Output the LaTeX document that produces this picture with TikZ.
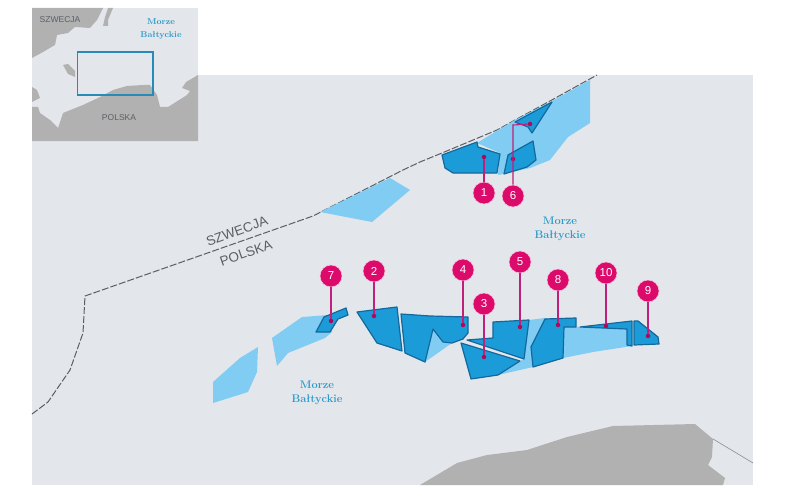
\documentclass[tikz,border=0pt]{standalone}
\usepackage{fontspec}
\newfontfamily\labelfont{Liberation Sans}
\definecolor{seagrey}{HTML}{E3E7EC}
\definecolor{landgrey}{HTML}{B1B1B1}
\definecolor{fieldlight}{HTML}{80CCF2}
\definecolor{fielddark}{HTML}{1B9BD8}
\definecolor{fieldedge}{HTML}{14689C}
\definecolor{pinred}{HTML}{DB0A6B}
\definecolor{seatext}{HTML}{2C9AC9}
\definecolor{bordergrey}{HTML}{5A5F66}
\tikzset{
 light/.style={fill=fieldlight, draw=none},
 dark/.style={fill=fielddark, draw=fieldedge, line width=1.2pt, line join=round},
 pin/.style={circle, fill=pinred, draw=pinred!25, line width=0.6pt, inner sep=0pt, minimum size=22pt, text=white, font=\labelfont\fontsize{11.5}{13}\selectfont},
 pindot/.style={circle, fill=pinred!80!black, inner sep=0pt, minimum size=4.5pt},
 pinline/.style={draw=pinred!85!fielddark, line width=1.1pt},
 country/.style={text=bordergrey, font=\labelfont\fontsize{13.5}{16}\selectfont},
 smallcountry/.style={text=bordergrey, font=\labelfont\fontsize{8.5}{10}\selectfont},
 sealabel/.style={text=seatext, align=center, font=\bfseries\fontsize{11}{14.5}\selectfont},
 smallsealabel/.style={text=seatext, align=center, font=\bfseries\fontsize{8.5}{12.5}\selectfont}
}

\begin{document}
\begin{tikzpicture}[x=1pt,y=-1pt]

 \useasboundingbox (0,0) rectangle (800,500);
 \fill[white] (0,0) rectangle (800,500);

 % MAIN MAP
 % sea
 \fill[seagrey] (32,75) rectangle (753,485);

 % land
 \fill[landgrey] (420,485) -- (457,463) -- (487,455) -- (527,450) -- (567,437) -- (613,426) -- (695,424)
  -- (713,439) -- (712,457) -- (708,465) -- (725,478) -- (723,485) -- cycle;
 \draw[bordergrey!70, line width=0.6pt] (713,439) -- (753,463);

 % border
 \draw[bordergrey, line width=1pt, dash pattern=on 7pt off 2pt] (32,414) -- (48,402) -- (70,370) -- (83,333) -- (85,296)
  -- (313,216) -- (403,170) -- (420,162) -- (442,153) -- (497,130) -- (515,120) -- (550,101) -- (597,75);

 % light fields
 \fill[light] (320,212) -- (390,178) -- (410,190) -- (372,222) -- cycle;
 \fill[light] (552,101) -- (590,80) -- (590,123) -- (568,137) -- (550,160) -- (530,168) -- (503,174)
  -- (498,175) -- (500,153) -- (477,143) -- (498,130) -- (515,120) -- cycle;
 \fill[light] (258,347) -- (257,372) -- (248,392) -- (213,403) -- (213,382) -- (240,358) -- cycle;
 \fill[light] (272,338) -- (302,317) -- (328,315) -- (332,332) -- (325,338) -- (288,353) -- (277,366) -- cycle;
 \fill[light] (433,329) -- (443,342) -- (452,343) -- (425,362) -- cycle;
 \fill[light] (529,320) -- (545,318) -- (576,327) -- (630,326) -- (632,346) -- (593,352) -- (563,358)
  -- (533,367) -- (498,375) -- (520,361) -- (524,359) -- cycle;

 % dark fields
 \draw[dark] (442,155) -- (477,142) -- (478,147) -- (500,154) -- (497,173) -- (453,173) -- (445,168) -- cycle;
 \draw[dark] (508,155) -- (533,141) -- (536,160) -- (527,167) -- (504,174) -- cycle;
 \draw[dark] (552,102) -- (532,133) -- (528,127) -- (515,122) -- cycle;
 \draw[dark] (346,308) -- (348,315) -- (338,319) -- (330,332) -- (316,332) -- (324,317) -- cycle;
 \draw[dark] (357,312) -- (397,307) -- (402,351) -- (377,343) -- cycle;
 \draw[dark] (401,314) -- (430,316) -- (468,317) -- (468,333) -- (463,339) -- (452,343) -- (443,342)
  -- (433,329) -- (425,362) -- (405,353) -- cycle;
 \draw[dark] (461,343) -- (520,361) -- (498,375) -- (471,379) -- cycle;
 \draw[dark] (467,340) -- (493,338) -- (493,322) -- (529,320) -- (524,359) -- cycle;
 \draw[dark] (545,319) -- (576,318) -- (576,327) -- (564,327) -- (563,358) -- (533,367) -- (531,347) -- (537,335) -- cycle;
 \draw[dark] (580,327) -- (632,321) -- (632,346) -- (627,345) -- (627,329) -- cycle;
 \draw[dark] (634,321) -- (638,321) -- (658,337) -- (659,344) -- (634,345) -- cycle;

 % pins
 \node[pin] (p1) at (484,193) {1};
 \node[pin] (p2) at (374,271) {2};
 \node[pin] (p3) at (484,304) {3};
 \node[pin] (p4) at (463,270) {4};
 \node[pin] (p5) at (520,262) {5};
 \node[pin] (p6) at (513,196) {6};
 \node[pin] (p7) at (331,276) {7};
 \node[pin] (p8) at (558,280) {8};
 \node[pin] (p9) at (648,291) {9};
 \node[pin] (p10) at (606,273) {10};

 \node[pindot] (d1) at (484,157) {};
 \node[pindot] (d2) at (374,316) {};
 \node[pindot] (d3) at (484,357) {};
 \node[pindot] (d4) at (463,325) {};
 \node[pindot] (d5) at (520,327) {};
 \node[pindot] (d6) at (513,159) {};
 \node[pindot] (d6b) at (530,124) {};
 \node[pindot] (d7) at (331,321) {};
 \node[pindot] (d8) at (558,325) {};
 \node[pindot] (d9) at (648,336) {};
 \node[pindot] (d10) at (606,326) {};
 \coordinate (c6) at (513,125);

 \draw[pinline] (p1) -- (d1);
 \draw[pinline] (p2) -- (d2);
 \draw[pinline] (p3) -- (d3);
 \draw[pinline] (p4) -- (d4);
 \draw[pinline] (p5) -- (d5);
 \draw[pinline] (p6) -- (c6) -- (d6b);
 \draw[pinline] (p7) -- (d7);
 \draw[pinline] (p8) -- (d8);
 \draw[pinline] (p9) -- (d9);
 \draw[pinline] (p10) -- (d10);

 % legend
 \node[sealabel] (seanorth) at (560,229) {Morze\\Bałtyckie};
 \node[sealabel] (seasouth) at (317,393) {Morze\\Bałtyckie};
 \node[country, rotate=20] (sweden) at (237,231) {SZWECJA};
 \node[country, rotate=19] (poland) at (246,253) {POLSKA};

 % -------------------------------------------------------------------
 % INSET
 % sea
 \fill[seagrey] (32,8) rectangle (198,141);

 % land
 \fill[landgrey] (32,8) -- (103,8) -- (97,20) -- (90,28) -- (75,27) -- (68,33) -- (57,35) -- (55,45) -- (43,52) -- (32,58) -- cycle;
 \fill[landgrey] (108,8) -- (113,8) -- (108,20) -- (108,26) -- (103,26) -- (105,17) -- cycle;
 \fill[landgrey] (63,65) -- (68,64) -- (75,71) -- (75,77) -- (68,74) -- cycle;
 \fill[landgrey] (32,87) -- (37,90) -- (40,98) -- (32,102) -- cycle;
 \fill[landgrey] (198,75) -- (186,82) -- (182,88) -- (190,91) -- (187,95) -- (168,107) -- (160,107) -- (157,95)
  -- (150,85) -- (143,85) -- (127,86) -- (113,90) -- (100,97) -- (83,105) -- (63,113) -- (58,128) -- (50,120)
  -- (40,113) -- (38,107) -- (32,107) -- (32,141) -- (198,141) -- cycle;

 % frame
 \draw[seatext!90!black, line width=1.8pt] (77.5,52) rectangle (153,95);

 % legend
 \node[smallcountry] (insetsweden) at (60,20) {SZWECJA};
 \node[smallcountry] (insetpoland) at (119,118) {POLSKA};
 \node[smallsealabel] (insetsea) at (161,29) {Morze\\Bałtyckie};

\end{tikzpicture}
\end{document}
